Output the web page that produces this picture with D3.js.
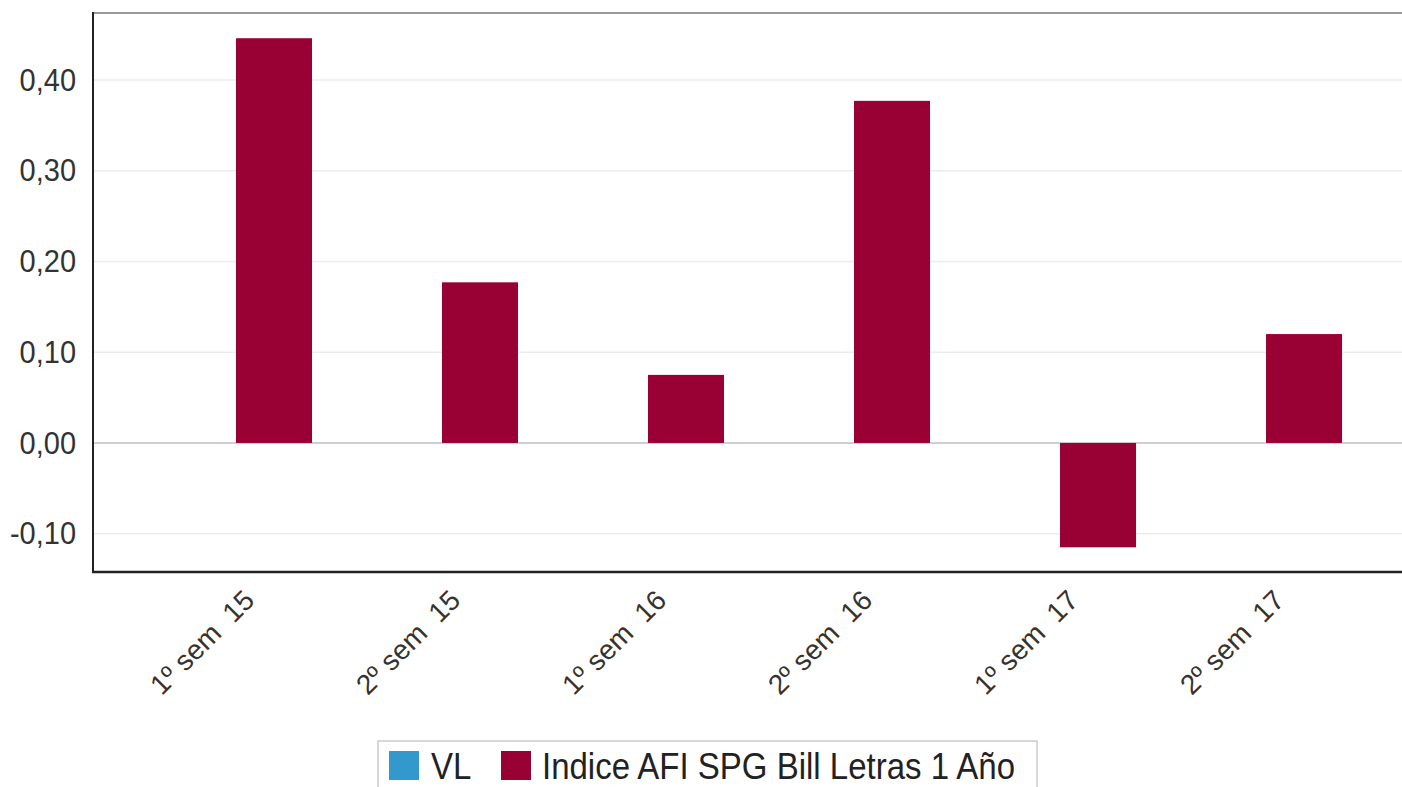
<!DOCTYPE html>
<html><head><meta charset="utf-8">
<script src="https://cdn.jsdelivr.net/npm/d3@7"></script>
<style>
html,body{margin:0;padding:0;background:#fff;overflow:hidden;}
svg{display:block;font-family:"Liberation Sans",Arial,sans-serif;}
</style></head><body>
<svg id="c" width="1402" height="787"></svg>
<script>
const categories = ["1º sem  15","2º sem  15","1º sem  16","2º sem  16","1º sem  17","2º sem  17"];
const seriesNames = ["VL","Indice AFI SPG Bill Letras 1 Año"];
const vlValues = [null,null,null,null,null,null];
const indiceValues = [0.446,0.177,0.075,0.377,-0.115,0.120];
const yTicks = [-0.10,0.00,0.10,0.20,0.30,0.40];
const colors = ["#3399cc","#990033"];

(function(){
const svg = d3.select("#c");
const pl = 93, pr = 1409, pt = 13, pb = 572;

const x0 = d3.scaleBand().domain(categories).range([pl,pr]).paddingInner(0.262).paddingOuter(0.325);
const x1 = d3.scaleBand().domain(seriesNames).range([0,x0.bandwidth()]);
const y = d3.scaleLinear().domain([-0.1422,0.4738]).range([pb,pt]);
const fmt = v => d3.format(".2f")(v).replace(".",",").replace("−","-");

// grid
svg.append("g").selectAll("line").data(yTicks).join("line")
  .attr("x1",pl).attr("x2",1402).attr("y1",d=>y(d)).attr("y2",d=>y(d))
  .attr("stroke",d=>d===0?"#cfcfcf":"#ececec").attr("stroke-width",d=>d===0?2:1.5);

// top border
svg.append("line").attr("x1",pl).attr("x2",1402).attr("y1",pt).attr("y2",pt)
  .attr("stroke","#999").attr("stroke-width",2);

// bars
const data = [vlValues,indiceValues];
const g = svg.append("g");
categories.forEach((c,i)=>{
  seriesNames.forEach((s,j)=>{
    const v = data[j][i];
    if(v==null) return;
    g.append("rect")
      .attr("x",x0(c)+x1(s)).attr("width",x1.bandwidth())
      .attr("y",y(Math.max(0,v))).attr("height",Math.abs(y(v)-y(0)))
      .attr("fill",colors[j]);
  });
});

// y axis
const yAxis = d3.axisLeft(y).tickValues(yTicks).tickFormat(fmt).tickSize(0).tickPadding(17);
const ya = svg.append("g").attr("transform",`translate(${pl},0)`).call(yAxis);
ya.select(".domain").remove();
ya.selectAll("text").attr("font-size",29).attr("fill","#333")
  .attr("font-family","Liberation Sans, Arial, sans-serif")
  .attr("transform","scale(1,1.1)");
svg.append("line").attr("x1",pl).attr("x2",pl).attr("y1",pt-1).attr("y2",pb+1)
  .attr("stroke","#222").attr("stroke-width",2);

// x axis
const xa = svg.append("g").attr("transform",`translate(0,${pb})`)
  .call(d3.axisBottom(x0).tickSize(0).tickFormat(d=>d));
xa.select(".domain").remove();
xa.selectAll("text")
  .attr("font-size",28).attr("fill","#333").attr("font-family","Liberation Sans, Arial, sans-serif")
  .attr("text-anchor","end").attr("dy",null).attr("y",null)
  .attr("transform","translate(20,30) rotate(-45)")
  .style("white-space","pre").attr("xml:space","preserve");
svg.append("line").attr("x1",pl-1).attr("x2",1402).attr("y1",pb).attr("y2",pb)
  .attr("stroke","#222").attr("stroke-width",2.5);

// legend
const lg = svg.append("g");
lg.append("rect").attr("x",378).attr("y",741).attr("width",659).attr("height",60)
  .attr("fill","#fff").attr("stroke","#ccc").attr("stroke-width",1.5);
const legendItems = [{x:389,tx:431},{x:501,tx:542}];
seriesNames.forEach((s,j)=>{
  lg.append("rect").attr("x",legendItems[j].x).attr("y",751).attr("width",30).attr("height",29).attr("fill",colors[j]);
  lg.append("text").attr("transform",`translate(${legendItems[j].tx},779) scale(1,1.1)`)
    .attr("font-size",33).attr("fill","#222").text(s);
});
})();
</script>
</body></html>
